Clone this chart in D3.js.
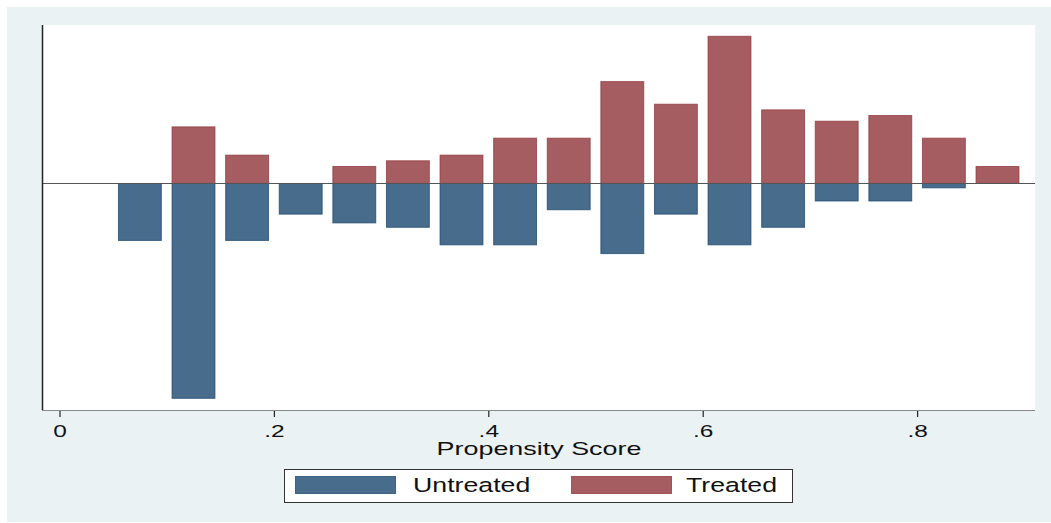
<!DOCTYPE html>
<html>
<head>
<meta charset="utf-8">
<script src="https://cdn.jsdelivr.net/npm/d3@7"></script>
<style>
  html, body { margin: 0; padding: 0; background: #ffffff; }
  svg { display: block; }
</style>
</head>
<body>
<svg id="chart" width="1051" height="523"></svg>
<script>
// Propensity score bins (centres, width 0.05)
const binCenters = [0.075, 0.125, 0.175, 0.225, 0.275, 0.325, 0.375, 0.425, 0.475,
                    0.525, 0.575, 0.625, 0.675, 0.725, 0.775, 0.825, 0.875];
// Density of the untreated group (drawn below the zero line)
const untreatedDensity = [1.361, 5.131, 1.361, 0.733, 0.942, 1.047, 1.466, 1.466, 0.628,
                          1.675, 0.733, 1.466, 1.047, 0.419, 0.419, 0.105, 0];
// Density of the treated group (drawn above the zero line)
const treatedDensity = [0, 1.351, 0.676, 0, 0.405, 0.541, 0.676, 1.081, 1.081,
                        2.432, 1.892, 3.514, 1.757, 1.486, 1.622, 1.081, 0.405];
const tickValues = [0, 0.2, 0.4, 0.6, 0.8];
const tickLabels = ["0", ".2", ".4", ".6", ".8"];
const seriesNames = ["Untreated", "Treated"];
const xTitle = "Propensity Score";
const barWidth = 0.04;

const colors = {
  untreatedFill: "#486c8c", untreatedLine: "#1a476f",
  treatedFill: "#a65d62", treatedLine: "#90353b"
};
const font = "'Liberation Sans', Arial, sans-serif";

const svg = d3.select("#chart");

// graph region
svg.append("rect").attr("x", 7).attr("y", 7).attr("width", 1044).attr("height", 515)
  .attr("fill", "#eaf2f3");

const plot = { left: 42, right: 1035, top: 25, bottom: 410 };
svg.append("rect").attr("x", plot.left).attr("y", plot.top)
  .attr("width", plot.right - plot.left).attr("height", plot.bottom - plot.top)
  .attr("fill", "#ffffff");

const x = d3.scaleLinear().domain([0, 0.9]).range([59.5, 1024.3]);
const y = d3.scaleLinear()
  .domain([-d3.max(untreatedDensity), d3.max(treatedDensity)])
  .range([398.3, 36.3]);

const rows = binCenters.map((c, i) => ({ c, u: untreatedDensity[i], t: treatedDensity[i] }));

// untreated bars, mirrored below zero
svg.append("g").selectAll("rect")
  .data(rows.filter(d => d.u > 0))
  .join("rect")
  .attr("x", d => x(d.c - barWidth / 2))
  .attr("width", d => x(d.c + barWidth / 2) - x(d.c - barWidth / 2))
  .attr("y", y(0))
  .attr("height", d => y(-d.u) - y(0))
  .attr("fill", colors.untreatedFill)
  .attr("stroke", colors.untreatedLine)
  .attr("stroke-opacity", 0.75)
  .attr("stroke-width", 1);

// treated bars above zero
svg.append("g").selectAll("rect")
  .data(rows.filter(d => d.t > 0))
  .join("rect")
  .attr("x", d => x(d.c - barWidth / 2))
  .attr("width", d => x(d.c + barWidth / 2) - x(d.c - barWidth / 2))
  .attr("y", d => y(d.t))
  .attr("height", d => y(0) - y(d.t))
  .attr("fill", colors.treatedFill)
  .attr("stroke", colors.treatedLine)
  .attr("stroke-opacity", 0.75)
  .attr("stroke-width", 1);

// zero reference line
svg.append("line")
  .attr("x1", plot.left).attr("x2", plot.right)
  .attr("y1", Math.round(y(0)) + 0.5).attr("y2", Math.round(y(0)) + 0.5)
  .attr("stroke", "#555555").attr("stroke-width", 1.2);

// left axis line (no labels)
svg.append("line")
  .attr("x1", plot.left + 0.5).attr("x2", plot.left + 0.5)
  .attr("y1", plot.top).attr("y2", plot.bottom)
  .attr("stroke", "#222222").attr("stroke-width", 1.5);

// bottom axis
const xAxis = d3.axisBottom(x)
  .tickValues(tickValues)
  .tickFormat((d, i) => tickLabels[i])
  .tickSize(7)
  .tickSizeOuter(0);
const gx = svg.append("g").attr("transform", `translate(0,${plot.bottom})`).call(xAxis);
gx.select(".domain").remove();
gx.append("line").attr("x1", plot.left).attr("x2", plot.right)
  .attr("y1", 0.5).attr("y2", 0.5).attr("stroke", "#888888").attr("stroke-width", 1.2);
gx.selectAll(".tick line").attr("stroke", "#222222").attr("stroke-width", 1.2);
gx.selectAll(".tick text")
  .attr("y", 0).attr("dy", 0)
  .attr("transform", "translate(0,27) scale(1.5,1)")
  .attr("fill", "#111111")
  .style("font-family", font)
  .style("font-size", "16.3px");

// axis title
svg.append("text")
  .attr("transform", "translate(539,455) scale(1.52,1)")
  .attr("text-anchor", "middle")
  .attr("fill", "#111111")
  .style("font-family", font).style("font-size", "17.7px")
  .text(xTitle);

// legend
const legend = svg.append("g");
legend.append("rect").attr("x", 284.5).attr("y", 469.5).attr("width", 508).attr("height", 33)
  .attr("fill", "#ffffff").attr("stroke", "#333333").attr("stroke-width", 1);
const keys = [
  { name: seriesNames[0], fill: colors.untreatedFill, line: colors.untreatedLine, kx: 295, tx: 413 },
  { name: seriesNames[1], fill: colors.treatedFill, line: colors.treatedLine, kx: 571, tx: 686 }
];
keys.forEach(k => {
  legend.append("rect").attr("x", k.kx + 0.5).attr("y", 476.5).attr("width", 100).attr("height", 17)
    .attr("fill", k.fill).attr("stroke", k.line).attr("stroke-opacity", 0.75).attr("stroke-width", 1);
  legend.append("text")
    .attr("transform", `translate(${k.tx},492) scale(1.37,1)`)
    .attr("fill", "#111111")
    .style("font-family", font).style("font-size", "19.5px")
    .text(k.name);
});
</script>
</body>
</html>
